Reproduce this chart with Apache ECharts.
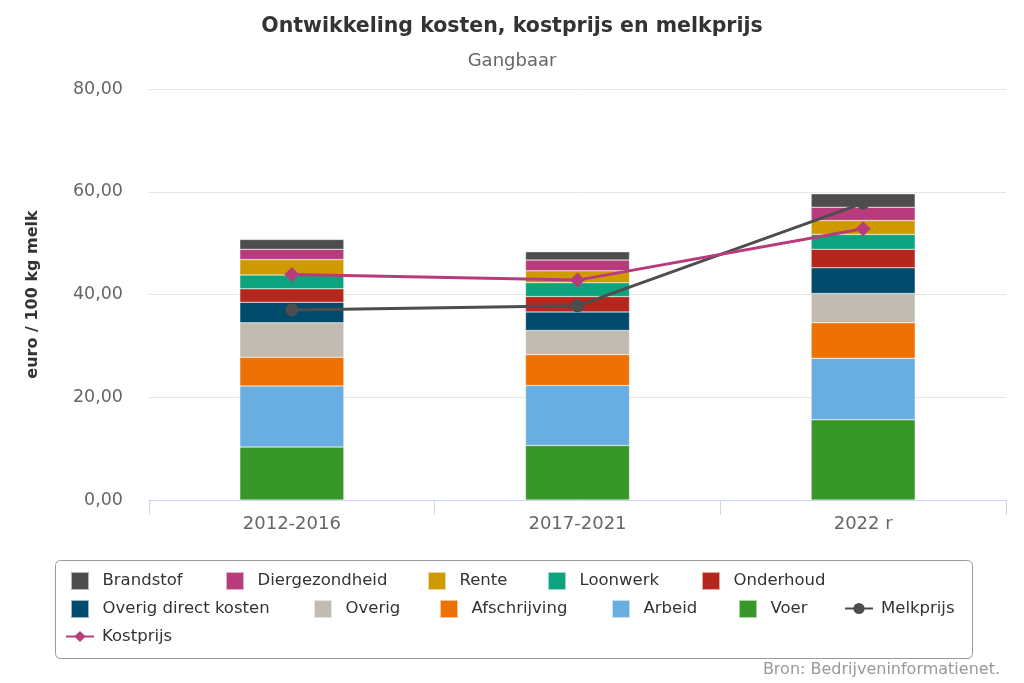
<!DOCTYPE html>
<html>
<head>
<meta charset="utf-8">
<script src="https://cdn.jsdelivr.net/npm/echarts@6/dist/echarts.min.js"></script>
<style>
html,body{margin:0;padding:0;background:#fff;}
#chart{width:1024px;height:683px;}
</style>
</head>
<body>
<div id="chart"></div>
<script>
const categories = ['2012-2016', '2017-2021', '2022 r'];
const yTicks = [0, 20, 40, 60, 80];

const voer = [10.3, 10.6, 15.6];
const arbeid = [11.9, 11.7, 12.0];
const afschrijving = [5.6, 6.0, 6.9];
const overig = [6.7, 4.7, 5.7];
const overigDirect = [4.0, 3.6, 5.0];
const onderhoud = [2.6, 3.0, 3.6];
const loonwerk = [2.7, 2.7, 2.9];
const rente = [3.0, 2.3, 2.7];
const diergezondheid = [2.0, 2.1, 2.6];
const brandstof = [1.9, 1.6, 2.6];
const melkprijs = [37.0, 37.8, 57.8];
const kostprijs = [43.9, 42.8, 52.8];

const FONT = 'DejaVu Sans';
const barSeries = [
  ['Voer', voer, '#379729'],
  ['Arbeid', arbeid, '#69aee0'],
  ['Afschrijving', afschrijving, '#ee7203'],
  ['Overig', overig, '#c2bbb2'],
  ['Overig direct kosten', overigDirect, '#004a6b'],
  ['Onderhoud', onderhoud, '#b5261c'],
  ['Loonwerk', loonwerk, '#0ca47f'],
  ['Rente', rente, '#cf9a00'],
  ['Diergezondheid', diergezondheid, '#b83c7c'],
  ['Brandstof', brandstof, '#4d4d4d']
];

const series = barSeries.map(([name, data, color]) => ({
  name, type: 'bar', stack: 'kosten', data, barWidth: 104,
  itemStyle: { color, borderColor: 'rgba(255,255,255,0.6)', borderWidth: 0.5 },
  emphasis: { disabled: true }
}));
series.push({
  name: 'Melkprijs', type: 'line', data: melkprijs, z: 5,
  symbol: 'circle', symbolSize: 13, showAllSymbol: true,
  lineStyle: { color: '#4d4d4d', width: 3 }, itemStyle: { color: '#4d4d4d' }
});
series.push({
  name: 'Kostprijs', type: 'line', data: kostprijs, z: 6,
  symbol: 'diamond', symbolSize: 15,
  lineStyle: { color: '#b83c7c', width: 3 }, itemStyle: { color: '#b83c7c' }
});

// legend item placement: [name, left, top, isLine]
const legendPlaces = [
  ['Brandstof', 70, 571, false], ['Diergezondheid', 225, 571, false], ['Rente', 427, 571, false],
  ['Loonwerk', 547, 571, false], ['Onderhoud', 701, 571, false],
  ['Overig direct kosten', 70, 599, false], ['Overig', 313, 599, false], ['Afschrijving', 439, 599, false],
  ['Arbeid', 611, 599, false], ['Voer', 738, 599, false], ['Melkprijs', 844, 600, true],
  ['Kostprijs', 65, 628, true]
];
const legends = legendPlaces.map(([name, left, top, isLine]) => ({
  data: [name], left, top, padding: 0, selectedMode: false,
  itemWidth: isLine ? 28 : 18, itemHeight: isLine ? 14 : 18,
  icon: isLine ? undefined : 'rect',
  textStyle: { fontFamily: FONT, fontSize: 16.5, color: '#333', padding: [0, 0, 0, isLine ? 3 : 8.5] }
}));

const option = {
  animation: false,
  title: [
    { text: 'Ontwikkeling kosten, kostprijs en melkprijs', left: 'center', top: 11,
      textStyle: { fontFamily: FONT, fontSize: 20.5, fontWeight: 'bold', color: '#333' } },
    { text: 'Gangbaar', left: 'center', top: 47,
      textStyle: { fontFamily: FONT, fontSize: 18, fontWeight: 'normal', color: '#666' } },
    { text: 'Bron: Bedrijveninformatienet.', right: 19, top: 657,
      textStyle: { fontFamily: FONT, fontSize: 16, fontWeight: 'normal', color: '#999' } }
  ],
  grid: { left: 149, right: 18, top: 89, bottom: 183 },
  legend: legends,
  graphic: [
    { type: 'rect', left: 53, top: 558, shape: { width: 917, height: 98, r: 5 },
      style: { fill: 'none', stroke: '#999', lineWidth: 1 }, silent: true }
  ],
  xAxis: {
    type: 'category', data: categories, boundaryGap: true,
    axisLine: { lineStyle: { color: '#ccd6eb' } },
    axisTick: { show: true, interval: 0, length: 15, lineStyle: { color: '#ccd6eb' } },
    axisLabel: { fontFamily: FONT, fontSize: 18, color: '#666', margin: 15 }
  },
  yAxis: {
    type: 'value', min: yTicks[0], max: yTicks[yTicks.length - 1], interval: 20,
    name: 'euro / 100 kg melk', nameLocation: 'middle', nameGap: 108, nameRotate: 90,
    nameTextStyle: { fontFamily: FONT, fontSize: 16, fontWeight: 'bold', color: '#333' },
    axisLine: { show: false }, axisTick: { show: false },
    splitLine: { lineStyle: { color: '#e6e6e6' } },
    axisLabel: { fontFamily: FONT, fontSize: 17.5, color: '#666', margin: 26,
      formatter: v => v.toFixed(2).replace('.', ',') }
  },
  series
};

const chart = echarts.init(document.getElementById('chart'));
chart.setOption(option);
</script>
</body>
</html>
